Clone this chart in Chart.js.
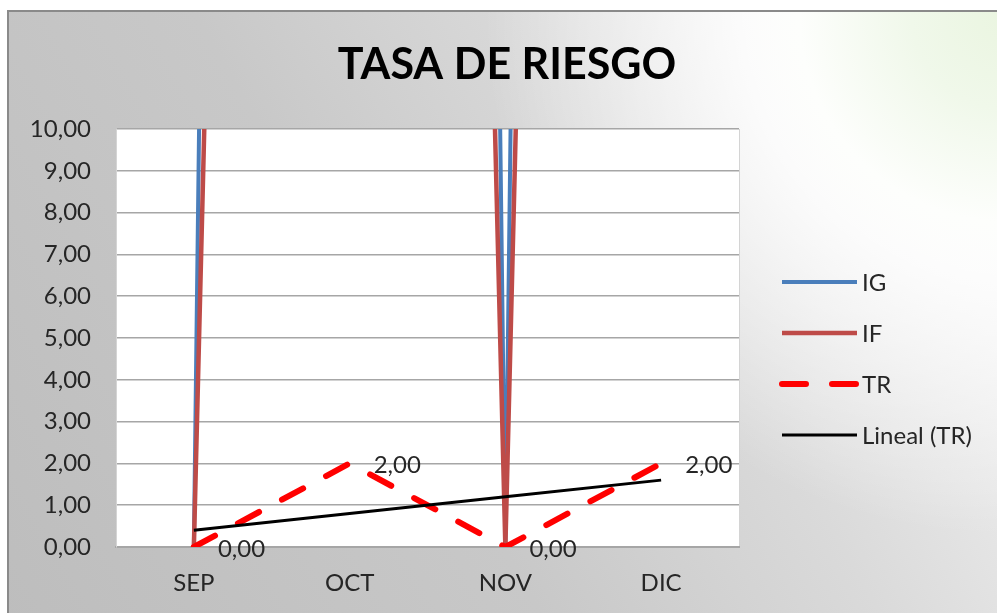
<!DOCTYPE html>
<html>
<head>
<meta charset="utf-8">
<script src="https://cdn.jsdelivr.net/npm/chart.js@4.4.1/dist/chart.umd.min.js"></script>
<style>
  html, body { margin: 0; padding: 0; background: #ffffff; }
  #wrap { position: relative; width: 997px; height: 613px; overflow: hidden; background: #ffffff; }
  #frame {
    position: absolute; left: 7px; top: 10px; width: 1000px; height: 620px;
    border-top: 2px solid #8a8a8a; border-left: 2px solid #8a8a8a;
    background:
      radial-gradient(circle 700px at 100% 0%, #eaf5e0 0%, #f0f8ea 14%, #fdfefc 30%, rgba(255,255,255,0.85) 38%, rgba(255,255,255,0) 75%),
      linear-gradient(60deg, #bdbdbd 0%, #c8c8c8 40%, #dadada 65%, #ececec 85%, #f2f2f2 100%);
  }
  #c { position: absolute; left: 0; top: 0; }
</style>
</head>
<body>
<div id="wrap">
  <div id="frame"></div>
  <canvas id="c" width="997" height="613"></canvas>
</div>
<script>
// ---- data ----
const categories = ['SEP', 'OCT', 'NOV', 'DIC'];
const igValues = [0, 300, 0, 300];          // IG (goes far above the 10,00 axis limit)
const ifValues = [0, 150, 0, 150];          // IF (goes far above the 10,00 axis limit)
const trValues = [0, 2, 0, 2];              // TR
const trendValues = [0.40, 0.80, 1.20, 1.60]; // Lineal (TR)
const yTickValues = [0, 1, 2, 3, 4, 5, 6, 7, 8, 9, 10];
const seriesNames = ['IG', 'IF', 'TR', 'Lineal (TR)'];
const chartTitle = 'TASA DE RIESGO';

const FONT = "Lato, 'Open Sans', sans-serif";
const fmt = v => Number(v).toFixed(2).replace('.', ',');

const plotBg = {
  id: 'plotBg',
  beforeDraw(chart) {
    const { ctx, chartArea: a } = chart;
    ctx.save();
    ctx.fillStyle = '#ffffff';
    ctx.fillRect(a.left, a.top, a.right - a.left, a.bottom - a.top);
    ctx.strokeStyle = '#d4d4d4';
    ctx.lineWidth = 1;
    ctx.beginPath();
    ctx.moveTo(a.right + 0.5, a.top);
    ctx.lineTo(a.right + 0.5, a.bottom);
    ctx.stroke();
    ctx.restore();
  }
};

const dataLabels = {
  id: 'dataLabels',
  afterDatasetsDraw(chart) {
    const { ctx } = chart;
    const idx = chart.data.datasets.findIndex(d => d.label === 'TR');
    const meta = chart.getDatasetMeta(idx);
    const vals = chart.data.datasets[idx].data;
    ctx.save();
    ctx.font = '24px ' + FONT;
    ctx.fillStyle = '#262626';
    ctx.textAlign = 'left';
    ctx.textBaseline = 'middle';
    meta.data.forEach((pt, i) => {
      ctx.fillText(fmt(vals[i]), pt.x + 24, pt.y + 2);
    });
    ctx.restore();
  }
};

const customLegend = {
  id: 'customLegend',
  afterDraw(chart) {
    const { ctx } = chart;
    const x0 = 782, x1 = 857, tx = 862, y0 = 282, dy = 51;
    ctx.save();
    chart.data.datasets.forEach((ds, i) => {
      const y = y0 + i * dy;
      ctx.beginPath();
      ctx.strokeStyle = ds.borderColor;
      ctx.lineWidth = ds.borderWidth;
      ctx.lineCap = ds.borderCapStyle || 'butt';
      ctx.setLineDash(ds.borderDash || []);
      ctx.moveTo(x0, y);
      ctx.lineTo(x1, y);
      ctx.stroke();
      ctx.setLineDash([]);
      ctx.font = '24px ' + FONT;
      ctx.fillStyle = '#262626';
      ctx.textAlign = 'left';
      ctx.textBaseline = 'middle';
      ctx.fillText(ds.label, tx, y + 1);
    });
    ctx.restore();
  }
};

const titlePlugin = {
  id: 'titlePlugin',
  afterDraw(chart) {
    const { ctx } = chart;
    ctx.save();
    ctx.font = "bold 43px Lato, sans-serif";
    ctx.fillStyle = '#000000';
    ctx.textAlign = 'center';
    ctx.textBaseline = 'middle';
    ctx.fillText(chartTitle, 507, 65);
    ctx.restore();
  }
};

new Chart(document.getElementById('c'), {
  type: 'line',
  data: {
    labels: categories,
    datasets: [
      { label: seriesNames[0], data: igValues, borderColor: '#4a7ebb', borderWidth: 4, pointRadius: 0, tension: 0, clip: 0, order: 4 },
      { label: seriesNames[1], data: ifValues, borderColor: '#be4b48', borderWidth: 4.5, pointRadius: 0, tension: 0, clip: 0, order: 3 },
      { label: seriesNames[2], data: trValues, borderColor: '#ff0000', borderWidth: 6, borderDash: [24, 26], borderCapStyle: 'round', pointRadius: 0, tension: 0, clip: 0, order: 2 },
      { label: seriesNames[3], data: trendValues, borderColor: '#000000', borderWidth: 3, pointRadius: 0, tension: 0, order: 1 }
    ]
  },
  options: {
    responsive: false,
    animation: false,
    devicePixelRatio: 1,
    layout: { padding: { top: 129, right: 258, bottom: 0, left: 0 } },
    plugins: { legend: { display: false }, title: { display: false }, tooltip: { enabled: false } },
    scales: {
      x: {
        offset: true,
        grid: { display: false, drawTicks: false },
        border: { display: true, color: '#a6a6a6', width: 2 },
        ticks: { color: '#262626', font: { family: FONT, size: 24 }, padding: 22 },
        afterFit(s) { s.height = 66; }
      },
      y: {
        min: 0, max: 10,
        afterBuildTicks(s) { s.ticks = yTickValues.map(v => ({ value: v })); },
        grid: { color: '#a6a6a6', lineWidth: 1.5, drawTicks: false },
        border: { display: true, color: '#d4d4d4', width: 1 },
        ticks: { color: '#262626', font: { family: FONT, size: 24 }, padding: 25, callback: v => fmt(v) },
        afterFit(s) { s.width = 116; }
      }
    }
  },
  plugins: [plotBg, dataLabels, customLegend, titlePlugin]
});
</script>
</body>
</html>
